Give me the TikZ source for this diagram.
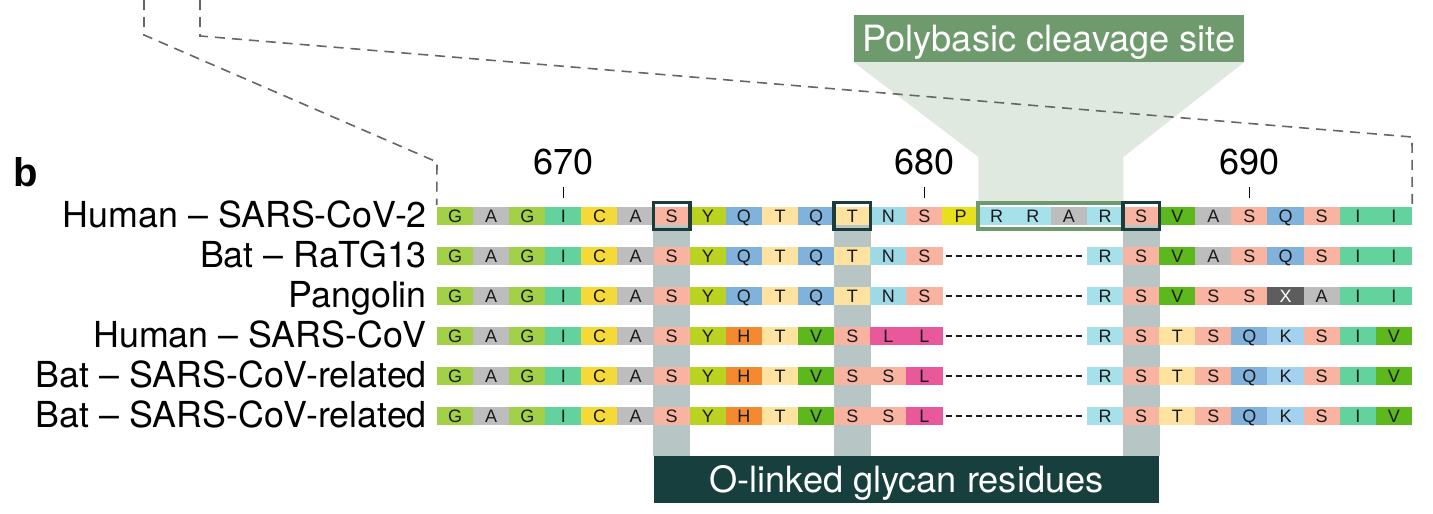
\documentclass[tikz,border=0pt]{standalone}
\usepackage{fontspec}
\setmainfont{TeX Gyre Heros}
\newfontfamily\resfont{Liberation Sans}
\newfontfamily\panelfont{Liberation Sans}
\usetikzlibrary{backgrounds}
\definecolor{resink}{HTML}{1A1A1A}
\definecolor{aaG}{HTML}{A4CF48}
\definecolor{aaA}{HTML}{BDBDBD}
\definecolor{aaI}{HTML}{64D29C}
\definecolor{aaC}{HTML}{F4D938}
\definecolor{aaS}{HTML}{F8B3A1}
\definecolor{aaY}{HTML}{BAD320}
\definecolor{aaQ}{HTML}{80B2DC}
\definecolor{aaT}{HTML}{FDE39F}
\definecolor{aaN}{HTML}{9ED9E6}
\definecolor{aaP}{HTML}{E6E01E}
\definecolor{aaR}{HTML}{A6E0E8}
\definecolor{aaV}{HTML}{5CB81C}
\definecolor{aaH}{HTML}{F38A32}
\definecolor{aaL}{HTML}{E8589B}
\definecolor{aaK}{HTML}{A4D2EE}
\definecolor{aaX}{HTML}{5D5D5D}
\makeatletter
\@for\aaname:=G,A,I,C,S,Y,Q,T,N,P,R,V,H,L,K\do{\colorlet{tx\aaname}{resink}}
\makeatother
\colorlet{txX}{white}
\definecolor{glygray}{HTML}{B7C5C4}
\definecolor{glydark}{HTML}{163F3E}
\definecolor{hlteal}{HTML}{1C3C3C}
\definecolor{polygreen}{HTML}{6E9A6E}
\definecolor{funnel}{HTML}{E0E9E0}
\definecolor{dashgray}{HTML}{666666}
\def\gapmark{-}
\newcommand\seqrow[2]{%
  \foreach \l [count=\i from 0] in {#2} {%
    \ifx\l\gapmark\else
      \node[cell=\l] (c#1-\i) at ({437+(\i+0.5)*36.11},{216+40*(#1-1)}) {\l};
    \fi
  }%
}
\begin{document}
\begin{tikzpicture}[x=1pt,y=-1pt,
  cell/.style={fill=aa#1,text=tx#1,minimum width=36.3pt,minimum height=18pt,
    inner sep=0pt,text height=12.8pt,text depth=0pt,
    font=\resfont\fontsize{18}{18}\selectfont},
  lab/.style={anchor=east,inner sep=0pt,text height=25.5pt,text depth=0pt,
    font=\fontsize{35.8}{36}\selectfont},
  num/.style={anchor=south,inner sep=0pt,text height=25pt,text depth=0pt,
    font=\fontsize{36}{36}\selectfont},
  tickline/.style={line width=1.2pt,black},
  gapline/.style={line width=1.4pt,resink,dash pattern=on 6pt off 4pt,
    shorten <=3pt,shorten >=3pt},
  zoomline/.style={line width=1.6pt,dashgray,dash pattern=on 10pt off 7pt},
  hlbox/.style={line width=3.5pt,hlteal},
  polybox/.style={line width=4pt,polygreen},
  titlebox/.style={inner sep=0pt,text height=25.5pt,text depth=0pt,text=white,
    font=\fontsize{36.2}{36}\selectfont},
]
\useasboundingbox (0,0) rectangle (1433,514);

% sequences
\seqrow{1}{G,A,G,I,C,A,S,Y,Q,T,Q,T,N,S,P,R,R,A,R,S,V,A,S,Q,S,I,I}
\seqrow{2}{G,A,G,I,C,A,S,Y,Q,T,Q,T,N,S,-,-,-,-,R,S,V,A,S,Q,S,I,I}
\seqrow{3}{G,A,G,I,C,A,S,Y,Q,T,Q,T,N,S,-,-,-,-,R,S,V,S,S,X,A,I,I}
\seqrow{4}{G,A,G,I,C,A,S,Y,H,T,V,S,L,L,-,-,-,-,R,S,T,S,Q,K,S,I,V}
\seqrow{5}{G,A,G,I,C,A,S,Y,H,T,V,S,S,L,-,-,-,-,R,S,T,S,Q,K,S,I,V}
\seqrow{6}{G,A,G,I,C,A,S,Y,H,T,V,S,S,L,-,-,-,-,R,S,T,S,Q,K,S,I,V}

% label boxes
\node[titlebox,fill=polygreen,minimum width=390pt,minimum height=47pt]
  (poly) at (1049,38.5) {Polybasic cleavage site};
\node[titlebox,fill=glydark,minimum width=505.5pt,minimum height=47pt]
  (gly) at (906.4,479.5) {O-linked glycan residues};

\begin{pgfonlayer}{background}
  \fill[funnel] (poly.south west) -- (poly.south east)
    -- (c1-18.north east |- 0,157) -- ([yshift=3pt]c1-18.north east)
    -- ([yshift=3pt]c1-15.north west) -- (c1-15.north west |- 0,157) -- cycle;
  \foreach \c in {6,11,19}
    \fill[glygray] (c1-\c.south west) rectangle (c1-\c.east |- gly.north);
\end{pgfonlayer}

% gaps
\foreach \r in {2,...,6}
  \draw[gapline] (c\r-13.east) -- (c\r-18.west);

% highlight outlines
\draw[polybox] ([yshift=4pt]c1-15.north west) rectangle ([yshift=-4pt]c1-18.south east);
\foreach \c in {6,11,19}
  \draw[hlbox] ([yshift=4.5pt]c1-\c.north west) rectangle ([yshift=-4.5pt]c1-\c.south east);

% numbering
\node[num] (n670) at (c1-3.center |- 0,175) {670};
\node[num] (n680) at (c1-13.center |- 0,175) {680};
\node[num] (n690) at (c1-22.center |- 0,175) {690};
\foreach \n in {670,680,690}
  \draw[tickline] ([yshift=-12pt]n\n.south) -- ++(0,11);

% row labels
\node[lab] (l1) at (427,215) {Human – SARS-CoV-2};
\node[lab] (l2) at (427,255) {Bat – RaTG13};
\node[lab] (l3) at (427,295) {Pangolin};
\node[lab] (l4) at (427,335) {Human – SARS-CoV};
\node[lab] (l5) at (427,375) {Bat – SARS-CoV-related};
\node[lab] (l6) at (427,415) {Bat – SARS-CoV-related};

% panel letter
\node[anchor=base west,inner sep=0pt,font=\panelfont\bfseries\fontsize{40}{40}\selectfont]
  (pb) at (13,186) {b};

% zoom lines
\coordinate (za) at (144,0);
\coordinate (zb) at (144,35);
\coordinate (zc) at (437,162);
\coordinate (zd) at (200,0);
\coordinate (ze) at (200,36);
\coordinate (zf) at (1412,137);
\draw[zoomline] (za) -- (zb) -- (zc) -- ([yshift=2pt]c1-0.north west);
\draw[zoomline] (zd) -- (ze) -- (zf) -- ([yshift=2pt]c1-26.north east);
\end{tikzpicture}
\end{document}
